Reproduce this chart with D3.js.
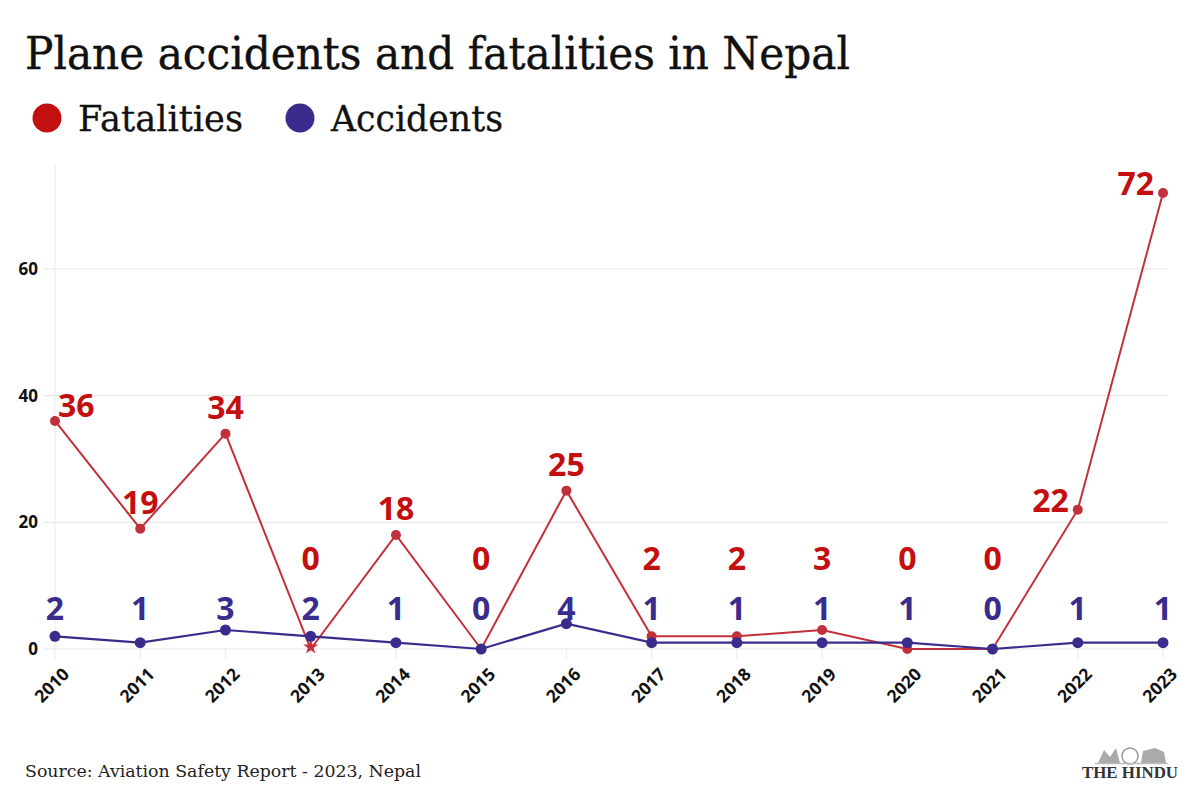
<!DOCTYPE html>
<html>
<head>
<meta charset="utf-8">
<script src="https://cdn.jsdelivr.net/npm/d3@7"></script>
<style>
  html, body { margin: 0; padding: 0; background: #fff; }
  svg { display: block; }
</style>
</head>
<body>
<svg id="chart" width="1200" height="795"></svg>
<script>
const years = ["2010","2011","2012","2013","2014","2015","2016","2017","2018","2019","2020","2021","2022","2023"];
const fatalities = [36, 19, 34, 0, 18, 0, 25, 2, 2, 3, 0, 0, 22, 72];
const accidents = [2, 1, 3, 2, 1, 0, 4, 1, 1, 1, 1, 0, 1, 1];
const yTicks = [0, 20, 40, 60];
const seriesNames = ["Fatalities", "Accidents"];

const RED = "#c30f0f";
const RED_LINE = "#c2303a";
const BLUE = "#3a2c8c";
const sans = "'Open Sans', 'Noto Sans', sans-serif";
const serif = "'DejaVu Serif', 'Liberation Serif', serif";

const svg = d3.select("#chart");

// Title
svg.append("text")
  .attr("x", 25).attr("y", 69)
  .attr("font-family", serif)
  .attr("font-size", 44)
  .attr("fill", "#111")
  .attr("stroke", "#111").attr("stroke-width", 0.4)
  .attr("textLength", 825).attr("lengthAdjust", "spacingAndGlyphs")
  .text("Plane accidents and fatalities in Nepal");

// Legend
const legendColors = [RED, BLUE];
const legendX = [47, 300];
const legendWidths = [165, 172];
seriesNames.forEach((n, i) => {
  svg.append("circle").attr("cx", legendX[i]).attr("cy", 118).attr("r", 14.5).attr("fill", legendColors[i]);
  svg.append("text")
    .attr("x", legendX[i] + 31).attr("y", 131)
    .attr("font-family", serif).attr("font-size", 35).attr("fill", "#111")
    .attr("stroke", "#111").attr("stroke-width", 0.3)
    .attr("textLength", legendWidths[i]).attr("lengthAdjust", "spacingAndGlyphs")
    .text(n);
});

// Scales
const x = d3.scalePoint().domain(years).range([55, 1163]);
const y = d3.scaleLinear().domain([0, 80]).range([649, 142.3]);

// Grid
const grid = svg.append("g");
grid.selectAll("line.h").data(yTicks).join("line")
  .attr("x1", 43).attr("x2", 1168)
  .attr("y1", d => y(d)).attr("y2", d => y(d))
  .attr("stroke", "#e8e8e8").attr("stroke-width", 1.2);
grid.append("line")
  .attr("x1", x(years[0])).attr("x2", x(years[0]))
  .attr("y1", 165).attr("y2", y(0))
  .attr("stroke", "#ececec").attr("stroke-width", 1.2);
grid.selectAll("line.t").data(years).join("line")
  .attr("x1", d => x(d)).attr("x2", d => x(d))
  .attr("y1", y(0)).attr("y2", y(0) + 10)
  .attr("stroke", "#ececec").attr("stroke-width", 1.2);

// Y axis labels
svg.append("g").selectAll("text").data(yTicks).join("text")
  .attr("x", 38).attr("y", d => y(d))
  .attr("dy", "0.35em")
  .attr("text-anchor", "end")
  .attr("font-family", sans).attr("font-weight", 700).attr("font-size", 17)
  .attr("fill", "#111")
  .text(d => d);

// X axis labels
svg.append("g").selectAll("text").data(years).join("text")
  .attr("transform", d => `translate(${x(d) + 11},${y(0) + 22}) rotate(-45)`)
  .attr("text-anchor", "end")
  .attr("dy", "0.35em")
  .attr("font-family", sans).attr("font-weight", 700).attr("font-size", 17.5)
  .attr("fill", "#111")
  .text(d => d);

// Lines
const fData = years.map((yr, i) => ({ yr, v: fatalities[i], i }));
const aData = years.map((yr, i) => ({ yr, v: accidents[i], i }));
const line = d3.line().x(d => x(d.yr)).y(d => y(d.v));

svg.append("path").datum(fData).attr("d", line)
  .attr("fill", "none").attr("stroke", RED_LINE).attr("stroke-width", 2);
svg.append("g").selectAll("circle").data(fData.filter(d => d.i !== 3)).join("circle")
  .attr("cx", d => x(d.yr)).attr("cy", d => y(d.v)).attr("r", 5).attr("fill", RED_LINE);
// 2013 zero marker
svg.append("path")
  .attr("d", d3.symbol().type(d3.symbolStar).size(70)())
  .attr("transform", `translate(${x("2013")},${y(0) - 2})`)
  .attr("fill", RED_LINE);

svg.append("path").datum(aData).attr("d", line)
  .attr("fill", "none").attr("stroke", BLUE).attr("stroke-width", 2.2);
svg.append("g").selectAll("circle").data(aData).join("circle")
  .attr("cx", d => x(d.yr)).attr("cy", d => y(d.v)).attr("r", 5.5).attr("fill", BLUE);

// Data labels
const n = years.length;
svg.append("g").selectAll("text").data(fData).join("text")
  .attr("x", d => d.i === 0 ? x(d.yr) + 3 : (d.i >= n - 2 ? x(d.yr) - 9 : x(d.yr)))
  .attr("y", d => {
    if (d.i === 0) return y(d.v) - 4;
    if (d.i >= n - 2) return y(d.v) + 2;
    return Math.min(y(d.v) - 15, y(0) - 79);
  })
  .attr("text-anchor", d => d.i === 0 ? "start" : (d.i >= n - 2 ? "end" : "middle"))
  .attr("font-family", sans).attr("font-weight", 700).attr("font-size", 32)
  .attr("fill", RED)
  .text(d => d.v);

svg.append("g").selectAll("text").data(aData).join("text")
  .attr("x", d => x(d.yr))
  .attr("y", y(0) - 29)
  .attr("text-anchor", "middle")
  .attr("font-family", sans).attr("font-weight", 700).attr("font-size", 32)
  .attr("fill", BLUE)
  .text(d => d.v);

// Source
svg.append("text")
  .attr("x", 25).attr("y", 777)
  .attr("font-family", serif).attr("font-size", 16).attr("fill", "#222")
  .attr("textLength", 396).attr("lengthAdjust", "spacingAndGlyphs")
  .text("Source: Aviation Safety Report - 2023, Nepal");

// Logo
const logo = svg.append("g");
logo.append("ellipse").attr("cx", 1130).attr("cy", 756).attr("rx", 8).attr("ry", 8).attr("fill", "none").attr("stroke", "#999").attr("stroke-width", 1.5);
logo.append("path").attr("d", "M1098,763 L1104,750 L1110,757 L1116,748 L1120,763 Z").attr("fill", "#aaa");
logo.append("path").attr("d", "M1141,763 L1143,751 L1155,748 L1164,752 L1166,763 Z").attr("fill", "#aaa");
logo.append("line").attr("x1", 1095).attr("x2", 1168).attr("y1", 763.5).attr("y2", 763.5).attr("stroke", "#bbb").attr("stroke-width", 1.5);
svg.append("text")
  .attr("x", 1130).attr("y", 778)
  .attr("text-anchor", "middle")
  .attr("font-family", "'Liberation Serif', serif").attr("font-weight", 700).attr("font-size", 16)
  .attr("fill", "#333")
  .attr("textLength", 96).attr("lengthAdjust", "spacingAndGlyphs")
  .text("THE HINDU");
</script>
</body>
</html>
